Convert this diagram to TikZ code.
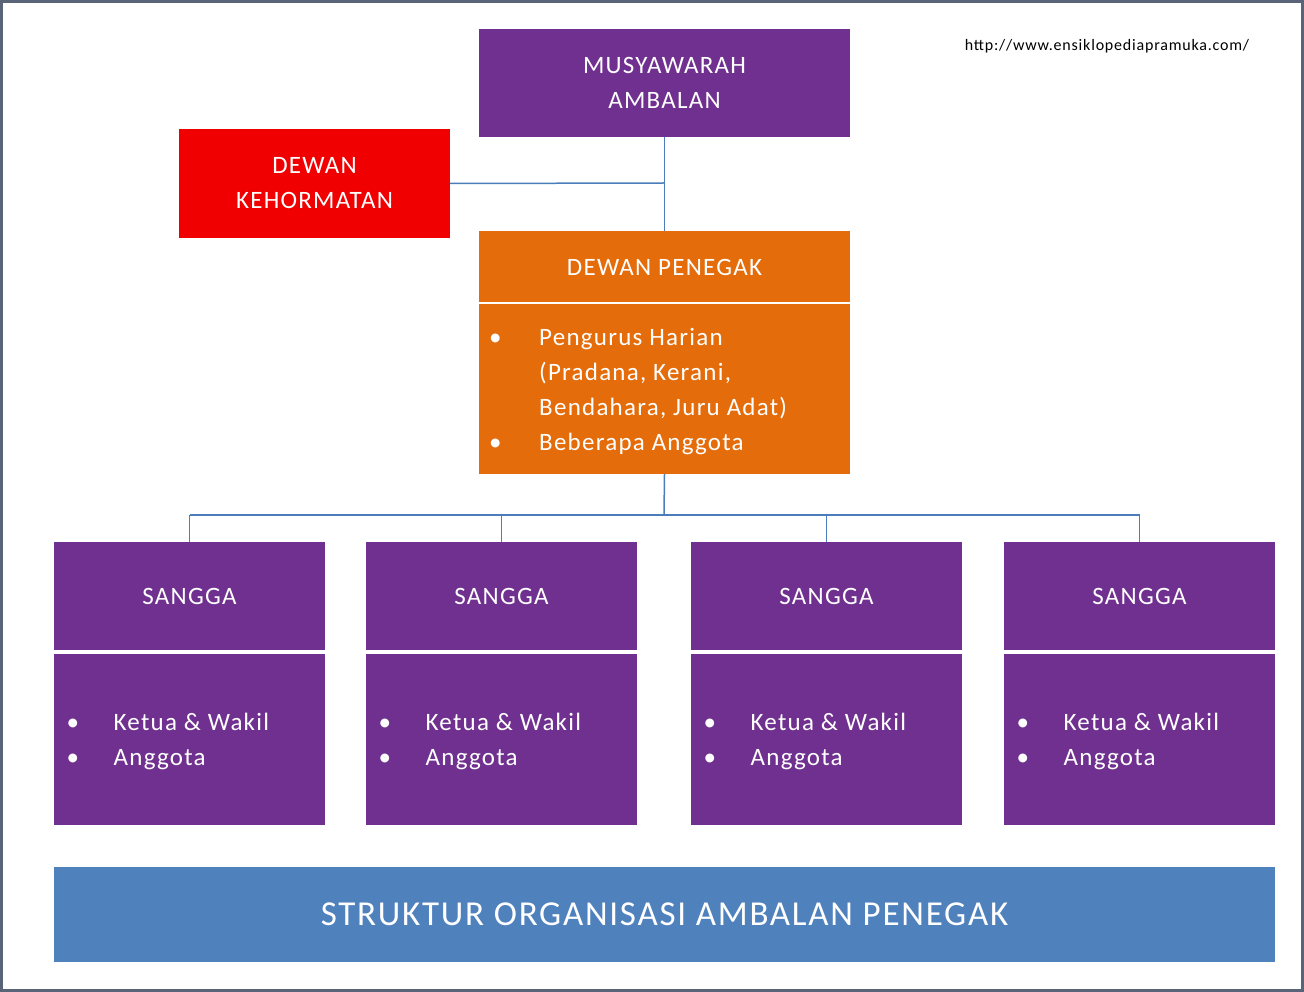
\documentclass[tikz,border=0pt]{standalone}
\usepackage{fontspec}
\setmainfont{Carlito}[LetterSpace=5]
\begin{document}
\begin{tikzpicture}[x=1pt,y=-1pt,
 box/.style={draw=none,inner sep=0pt,text=white,font=\fontsize{25}{35}\selectfont,align=center},
 pur/.style={box,fill={rgb,255:red,112;green,48;blue,143}},
 org/.style={box,fill={rgb,255:red,228;green,108;blue,10}},
 lst/.style={anchor=north west,inner sep=0pt,text=white,font=\fontsize{25}{35}\selectfont,align=left},
 con/.style={draw={rgb,255:red,74;green,126;blue,187},line width=1.5pt}]
\draw[fill=white,draw={rgb,255:red,90;green,100;blue,120},line width=3pt] (1.5,1.5) rectangle (1302.5,990.5);
\useasboundingbox (0,0) rectangle (1304,992);
\node[pur,minimum width=371pt,minimum height=108pt] (mus) at (664.5,83) {MUSYAWARAH\\AMBALAN};
\node[box,fill={rgb,255:red,240;green,0;blue,0},minimum width=271pt,minimum height=109pt] (dk) at (314.5,183.5) {DEWAN\\KEHORMATAN};
\node[org,minimum width=371pt,minimum height=71pt] (dp) at (664.5,267) {DEWAN PENEGAK};
\node[org,minimum width=371pt,minimum height=170pt] (dpb) at (664.5,389) {};
\node[lst] (dpt) at (489,328) {\makebox[50pt][l]{\textbullet}Pengurus Harian\\\hspace*{50pt}(Pradana, Kerani,\\\hspace*{50pt}Bendahara, Juru Adat)\\\makebox[50pt][l]{\textbullet}Beberapa Anggota};
\coordinate (j1) at (664,183);
\draw[con] (mus.south) -- (dp.north);
\draw[con] (dk.east) -- (j1);
\coordinate (j2) at (664,515);
\draw[con] (dpb.south) -- (j2);
\foreach \i/\x in {1/189.5,2/501.5,3/826.5,4/1139.5}{
 \node[pur,minimum width=271pt,minimum height=108pt] (s\i) at (\x,596) {SANGGA};
 \node[pur,minimum width=271pt,minimum height=171pt] (b\i) at (\x,739.5) {};
 \node[lst] (t\i) at (\x-123,713) {\makebox[47pt][l]{\textbullet}Ketua \& Wakil\\\makebox[47pt][l]{\textbullet}Anggota};
 \coordinate (d\i) at (\x,515);
 \draw[con] (d\i) -- (s\i.north);
}
\draw[con] (d1) -- (d4);
\node[box,fill={rgb,255:red,79;green,129;blue,189},minimum width=1221pt,minimum height=95pt,font=\fontsize{35}{40}\selectfont] (title) at (664.5,914.5) {STRUKTUR ORGANISASI AMBALAN PENEGAK};
\node[font=\fontsize{16}{18}\selectfont,inner sep=0pt] (url) at (1107,46) {http://www.ensiklopediapramuka.com/};
\end{tikzpicture}
\end{document}
